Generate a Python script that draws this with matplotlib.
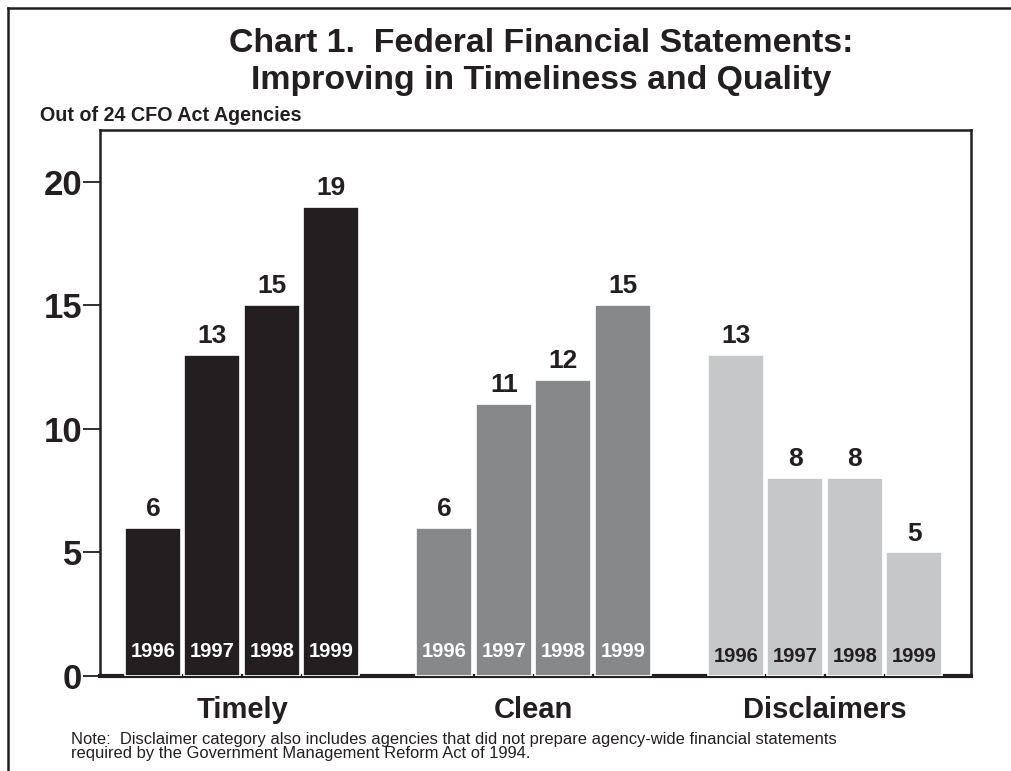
import numpy as np
import matplotlib
matplotlib.use('Agg')
import matplotlib.pyplot as plt
from matplotlib.lines import Line2D

plt.rcParams['font.family'] = ['Liberation Sans', 'DejaVu Sans']

# dados do gráfico
categorias = ['Timely', 'Clean', 'Disclaimers']
anos = ['1996', '1997', '1998', '1999']
timely = [6, 13, 15, 19]
clean = [6, 11, 12, 15]
disclaimers = [13, 8, 8, 5]
yticks = [0, 5, 10, 15, 20]

series = [timely, clean, disclaimers]
cores = ['#231f20', '#87888a', '#c6c7c8']
cores_anos = ['white', 'white', '#231f20']
y_anos = [1.0, 1.0, 0.8]
texto = '#231f20'

passo_grupo = 4.9
largura = 0.94

fig = plt.figure(figsize=(10.11, 7.71), dpi=100)
ax = fig.add_axes([0.0989, 0.1232, 0.8615, 0.7082])

for g, vals in enumerate(series):
    xs = g * passo_grupo + np.arange(len(vals))
    ax.bar(xs, vals, width=largura, color=cores[g], edgecolor='white',
           linewidth=1.2, zorder=3)
    for x, v, ano in zip(xs, vals, anos):
        ax.annotate(str(v), (x, v), xytext=(0, 5), textcoords='offset points',
                    ha='center', va='bottom', fontsize=19, fontweight='bold',
                    color=texto)
        ax.text(x, y_anos[g], ano, ha='center', va='center', fontsize=14.5,
                fontweight='bold', color=cores_anos[g], zorder=4)
    ax.text(xs.mean(), -0.062, categorias[g], transform=ax.get_xaxis_transform(),
            ha='center', va='center', fontsize=21, fontweight='bold', color=texto)

ax.set_xlim(-0.89, 13.75)
ax.set_ylim(0, 22.1)
ax.set_xticks([])
ax.set_yticks(yticks)
ax.set_yticklabels([str(t) for t in yticks], fontsize=25, fontweight='bold',
                   color=texto)
ax.tick_params(axis='y', length=12, width=1.3, pad=1.0, color=texto)

for lado in ['left', 'top', 'right']:
    ax.spines[lado].set_linewidth(1.8)
    ax.spines[lado].set_color(texto)
ax.spines['bottom'].set_linewidth(3)
ax.spines['bottom'].set_color(texto)
ax.spines['bottom'].set_zorder(2)

# titulo e textos
fig.text(0.535, 0.964, 'Chart 1.  Federal Financial Statements:\nImproving in Timeliness and Quality',
         ha='center', va='top', fontsize=24.4, fontweight='bold', color=texto,
         linespacing=1.24)
fig.text(0.0396, 0.843, 'Out of 24 CFO Act Agencies', ha='left', va='baseline',
         fontsize=14.2, fontweight='bold', color=texto)
fig.text(0.0702, 1 - 732 / 771,
         'Note:  Disclaimer category also includes agencies that did not prepare agency-wide financial statements\n'
         'required by the Government Management Reform Act of 1994.',
         ha='left', va='top', fontsize=11.9, color=texto, linespacing=0.92)

# moldura da figura (esquerda e topo)
fig.add_artist(Line2D([0.0079, 0.0079], [0, 0.9896], color=texto, lw=1.8))
fig.add_artist(Line2D([0.0079, 1.0], [0.9896, 0.9896], color=texto, lw=1.8))

plt.savefig('out.png', dpi=100)
plt.close()
